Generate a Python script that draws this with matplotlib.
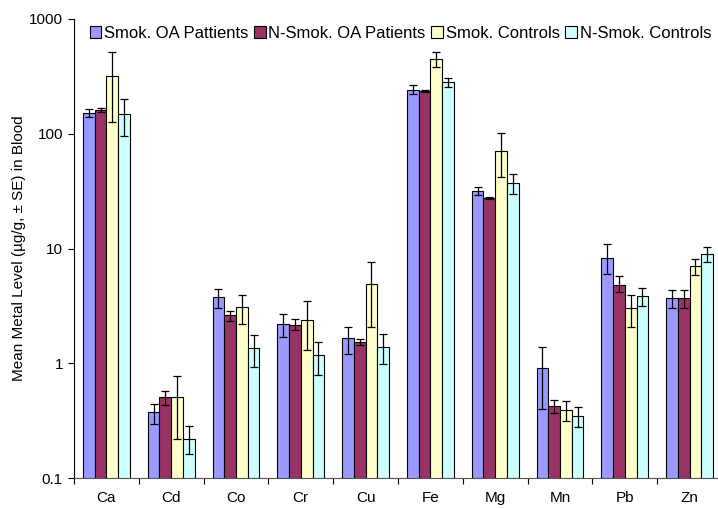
import numpy as np
import matplotlib
matplotlib.use("Agg")
import matplotlib.pyplot as plt
from matplotlib.ticker import FixedLocator, NullLocator, FixedFormatter

plt.rcParams['font.family'] = ['Liberation Sans', 'DejaVu Sans']

metals = ["Ca", "Cd", "Co", "Cr", "Cu", "Fe", "Mg", "Mn", "Pb", "Zn"]
groups = ["Smok. OA Pattients", "N-Smok. OA Patients", "Smok. Controls", "N-Smok. Controls"]
colors = ["#9999FF", "#993366", "#FFFFCC", "#CCFFFF"]

# means
smok_oa = [151, 0.374, 3.76, 2.20, 1.66, 243, 31.8, 0.90, 8.34, 3.74]
nsmok_oa = [160, 0.506, 2.61, 2.17, 1.53, 237, 27.6, 0.428, 4.85, 3.69]
smok_ctrl = [318, 0.506, 3.10, 2.39, 4.88, 447, 71.0, 0.392, 3.02, 7.05]
nsmok_ctrl = [148, 0.220, 1.36, 1.17, 1.39, 280, 37.3, 0.347, 3.86, 8.92]

# upper / lower ends of the error bars
smok_oa_hi = [163, 0.442, 4.44, 2.71, 2.09, 265, 34.4, 1.39, 10.9, 4.39]
smok_oa_lo = [140, 0.296, 3.06, 1.68, 1.21, 221, 29.2, 0.403, 6.05, 3.06]
nsmok_oa_hi = [168, 0.574, 2.86, 2.43, 1.62, 242, 28.3, 0.479, 5.73, 4.36]
nsmok_oa_lo = [154, 0.436, 2.32, 1.94, 1.45, 232, 27.0, 0.369, 4.16, 3.03]
smok_ctrl_hi = [515, 0.775, 3.97, 3.47, 7.6, 518, 100.7, 0.469, 3.97, 8.18]
smok_ctrl_lo = [126, 0.220, 2.22, 1.30, 2.07, 381, 41.8, 0.314, 2.09, 5.93]
nsmok_ctrl_hi = [199, 0.282, 1.77, 1.53, 1.80, 307, 44.7, 0.416, 4.57, 10.3]
nsmok_ctrl_lo = [95, 0.161, 0.935, 0.786, 0.98, 253, 30.1, 0.281, 3.18, 7.6]

means = [smok_oa, nsmok_oa, smok_ctrl, nsmok_ctrl]
highs = [smok_oa_hi, nsmok_oa_hi, smok_ctrl_hi, nsmok_ctrl_hi]
lows = [smok_oa_lo, nsmok_oa_lo, smok_ctrl_lo, nsmok_ctrl_lo]

fig = plt.figure(figsize=(7.18, 5.08), dpi=100)
ax = fig.add_axes([74 / 718, 30 / 508, 648 / 718, 459 / 508])

x = np.arange(len(metals))
w = 0.181
for i in range(4):
    m = np.array(means[i])
    hi = np.array(highs[i])
    lo = np.array(lows[i])
    pos = x + (i - 1.5) * w
    ax.bar(pos, m, width=w, color=colors[i], edgecolor="black", linewidth=0.8,
           label=groups[i], bottom=0.0001, zorder=2)
    ax.errorbar(pos, m, yerr=[m - lo, hi - m], fmt="none", ecolor="black",
                elinewidth=0.9, capsize=3, capthick=0.9, zorder=3)

ax.set_yscale("log")
ax.set_ylim(0.1, 1000)
ax.set_xlim(-0.5, len(metals) - 0.5)
ax.yaxis.set_major_locator(FixedLocator([0.1, 1, 10, 100, 1000]))
ax.yaxis.set_major_formatter(FixedFormatter(["0.1", "1", "10", "100", "1000"]))
ax.yaxis.set_minor_locator(NullLocator())

ax.set_xticks(x)
ax.set_xticklabels(metals)
ax.set_xticks(np.arange(len(metals) + 1) - 0.5, minor=True)
ax.tick_params(axis="x", which="major", length=0, pad=9.5, labelsize=11)
ax.tick_params(axis="x", which="minor", length=4, direction="out", width=0.8)
ax.tick_params(axis="y", which="major", length=4, direction="out", width=0.8,
               labelsize=11, pad=4)

ax.spines["top"].set_visible(False)
ax.spines["right"].set_visible(False)
ax.spines["left"].set_color("black")
ax.spines["bottom"].set_color("#555555")

ax.set_ylabel("Mean Metal Level (µg/g, ± SE) in Blood", fontsize=11, labelpad=2)

ax.legend(loc="upper left", bbox_to_anchor=(0.014, 1.0), ncol=4, frameon=False,
          fontsize=12, handlelength=0.7, handleheight=0.7, handletextpad=0.15,
          columnspacing=0.35, borderaxespad=0)

fig.savefig("out.png", dpi=100)
